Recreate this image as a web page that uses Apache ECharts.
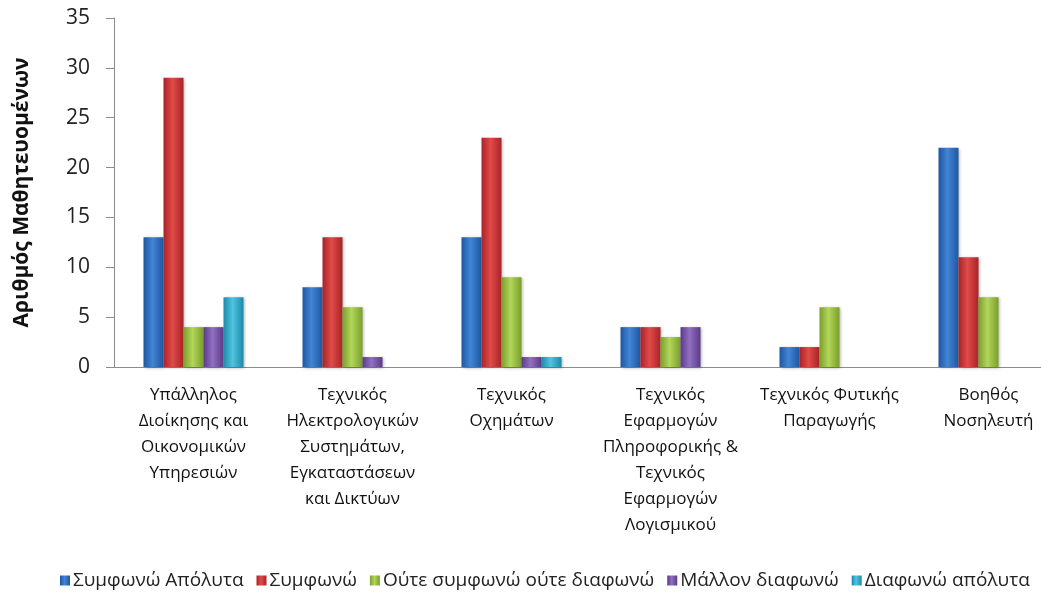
<!DOCTYPE html>
<html>
<head>
<meta charset="utf-8">
<script src="https://cdn.jsdelivr.net/npm/echarts@6/dist/echarts.min.js"></script>
<style>
  html, body { margin: 0; padding: 0; background: #fff; overflow: hidden; }
  /* plot runs past the right edge in the reference, so the canvas is wider than the window */
  #chart { width: 1068px; height: 595px; }
</style>
</head>
<body>
<div id="chart"></div>
<script>
var categories = [
  'Υπάλληλος\nΔιοίκησης και\nΟικονομικών\nΥπηρεσιών',
  'Τεχνικός\nΗλεκτρολογικών\nΣυστημάτων,\nΕγκαταστάσεων\nκαι Δικτύων',
  'Τεχνικός\nΟχημάτων',
  'Τεχνικός\nΕφαρμογών\nΠληροφορικής &\nΤεχνικός\nΕφαρμογών\nΛογισμικού',
  'Τεχνικός Φυτικής\nΠαραγωγής',
  'Βοηθός\nΝοσηλευτή'
];
var seriesNames = ['Συμφωνώ Απόλυτα', 'Συμφωνώ', 'Ούτε συμφωνώ ούτε διαφωνώ', 'Μάλλον διαφωνώ', 'Διαφωνώ απόλυτα'];
var agreeFully = [13, 8, 13, 4, 2, 22];
var agree = [29, 13, 23, 4, 2, 11];
var neutral = [4, 6, 9, 3, 6, 7];
var ratherDisagree = [4, 1, 1, 4, 0, 0];
var disagreeFully = [7, 0, 1, 0, 0, 0];
var yTicks = [0, 5, 10, 15, 20, 25, 30, 35];

// dark edge / light centre for each series
var palette = [
  ['#1f56a0', '#4185d6'],
  ['#a92328', '#e04b47'],
  ['#7a9f2a', '#b2d65a'],
  ['#5a3a88', '#9170c2'],
  ['#1b8aa8', '#4fc4df']
];

function grad(c) {
  return new echarts.graphic.LinearGradient(0, 0, 1, 0, [
    { offset: 0, color: c[0] },
    { offset: 0.45, color: c[1] },
    { offset: 1, color: c[0] }
  ]);
}

var allData = [agreeFully, agree, neutral, ratherDisagree, disagreeFully];

var chart = echarts.init(document.getElementById('chart'), null, { renderer: 'canvas' });

var option = {
  animation: false,
  color: palette.map(function (c) { return c[1]; }),
  grid: { left: 114, right: 0, top: 18, bottom: 228 },
  legend: {
    bottom: 0,
    left: 55,
    itemWidth: 10,
    itemHeight: 10,
    itemGap: 13,
    icon: 'rect',
    textStyle: { fontFamily: 'Open Sans', fontSize: 19, color: '#222', padding: [0, 0, 0, -2] },
    data: seriesNames
  },
  xAxis: {
    type: 'category',
    data: categories,
    axisLine: { lineStyle: { color: '#8c8c8c', width: 1 } },
    axisTick: { show: false },
    axisLabel: {
      interval: 0,
      margin: 15,
      fontFamily: 'Open Sans',
      fontSize: 17,
      lineHeight: 26,
      color: '#111',
      align: 'center'
    }
  },
  yAxis: {
    type: 'value',
    min: 0,
    max: 35,
    interval: 5,
    name: 'Αριθμός Μαθητευομένων',
    nameLocation: 'middle',
    nameGap: 81,
    nameRotate: 90,
    nameTextStyle: { fontFamily: 'Open Sans', fontSize: 21, fontWeight: 'bold', color: '#111' },
    axisLine: { show: true, lineStyle: { color: '#8c8c8c', width: 1 } },
    axisTick: { show: true, length: 8, lineStyle: { color: '#8c8c8c' } },
    splitLine: { show: false },
    axisLabel: {
      fontFamily: 'Open Sans',
      fontSize: 21,
      color: '#222',
      margin: 24,
      formatter: function (v) { return yTicks.indexOf(v) >= 0 ? String(v) : ''; }
    }
  },
  series: allData.map(function (d, i) {
    return {
      name: seriesNames[i],
      type: 'bar',
      data: d,
      barWidth: 20,
      barGap: '0%',
      itemStyle: {
        color: grad(palette[i]),
        shadowBlur: 3,
        shadowColor: 'rgba(0,0,0,0.3)',
        shadowOffsetX: 1,
        shadowOffsetY: 1
      }
    };
  })
};

chart.setOption(option);
</script>
</body>
</html>
